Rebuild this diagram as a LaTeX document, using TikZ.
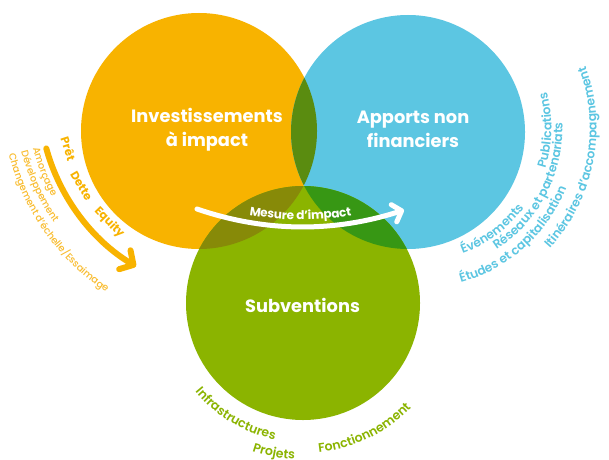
\documentclass[tikz,border=0pt]{standalone}
\usepackage{fontspec}
\setmainfont{Poppins}
\newfontfamily\popsb{Poppins SemiBold}
\newfontfamily\popmd{Poppins Medium}
\usetikzlibrary{arrows.meta,decorations.text}
\definecolor{orangeC}{HTML}{F8B300}
\definecolor{blueC}{HTML}{5CC6E2}
\definecolor{greenC}{HTML}{8BB400}
\definecolor{obC}{HTML}{5A8C10}
\definecolor{ogC}{HTML}{878A08}
\definecolor{bgC}{HTML}{379714}
\definecolor{obgC}{HTML}{78A50F}
\definecolor{orangeT}{HTML}{F8B300}
\definecolor{orangeL}{HTML}{F9BC2E}
\definecolor{blueT}{HTML}{5CC6E2}
\definecolor{greenT}{HTML}{8BB400}
\newcommand\bluefmt{\popsb\fontsize{12.3}{14}\selectfont}
\newcommand\greenfmt{\popsb\fontsize{12.5}{14}\selectfont}
\newcommand\smallfmt{\popmd\fontsize{9.8}{11}\selectfont}
\newcommand\mesfmt{\bfseries\fontsize{12}{14}\selectfont}
\newcommand\arctext[7]{%
  \path[decorate,decoration={text along path,text align=#5,#6,text={#7}}]
    ([shift={(#3:#2)}]#1) arc[start angle=#3,end angle=#4,radius=#2];}
\begin{document}
\begin{tikzpicture}[x=1pt,y=1pt,
  biglabel/.style={text=white,font=\bfseries\fontsize{17.8}{24}\selectfont,align=center},
  boldlab/.style={text=orangeT,font=\bfseries\fontsize{11.5}{13}\selectfont,inner sep=0pt},
  orangearrow/.style={draw=orangeC,line width=6pt,line cap=round,
     -{Straight Barb[length=10pt,width=22pt,round]}},
  whitearrow/.style={draw=white,line width=5pt,line cap=round,
     -{Straight Barb[length=8pt,width=18pt,round]}}]
\useasboundingbox (0,0) rectangle (609,459);
\fill[white] (0,0) rectangle (609,459);
\coordinate (O) at (199,328);
\coordinate (B) at (408,327);
\coordinate (G) at (303,156);
\coordinate (C) at (239,364);
\coordinate (Cr) at (417,331);
% circles
\fill[orangeC] (O) circle[radius=118pt];
\fill[blueC] (B) circle[radius=117pt];
\fill[greenC] (G) circle[radius=117pt];
\begin{scope}
  \clip (O) circle[radius=118pt];
  \fill[obC] (B) circle[radius=117pt];
  \fill[ogC] (G) circle[radius=117pt];
\end{scope}
\begin{scope}
  \clip (B) circle[radius=117pt];
  \fill[bgC] (G) circle[radius=117pt];
\end{scope}
\begin{scope}
  \clip (O) circle[radius=118pt];
  \clip (B) circle[radius=117pt];
  \fill[obgC] (G) circle[radius=117pt];
\end{scope}
% main labels
\node[biglabel] (inv) at (207,329) {Investissements\\à impact};
\node[biglabel] (apn) at (413,329.5) {Apports non\\financiers};
\node[biglabel] (sub) at (302.5,154) {Subventions};
% white arrow
\coordinate (ws) at (197,250);
\coordinate (we) at (404,249);
\draw[whitearrow] (ws) .. controls (265,226.7) and (334,226.3) .. (we);
\path[decorate,decoration={text along path,text align=center,raise=7pt,
   text color=white,text={|\mesfmt|Mesure d’impact}}]
   (ws) .. controls (265,226.7) and (334,226.3) .. (we);
% left orange arrow and labels
\draw[orangearrow] ([shift={(195.5:200pt)}]C) arc[start angle=195.5,end angle=239,radius=200pt];
\node[boldlab,rotate=288] (pret) at ([shift={(197.5:179pt)}]C) {Prêt};
\node[boldlab,rotate=300] (dette) at ([shift={(210:182pt)}]C) {Dette};
\node[boldlab,rotate=314] (equity) at ([shift={(224.5:182pt)}]C) {Equity};
\arctext{C}{213pt}{194.5}{260}{left}{text color=orangeL}{|\smallfmt|Amorçage}
\arctext{C}{225pt}{194.5}{260}{left}{text color=orangeL}{|\smallfmt|Développement}
\arctext{C}{238pt}{194.5}{260}{left}{text color=orangeL}{|\smallfmt|Changement d’échelle/Essaimage}
% right blue labels
\arctext{Cr}{133.5pt}{-103.4}{-3.4}{center}{text color=blueT}{|\bluefmt|Événements}
\arctext{Cr}{134.5pt}{-51}{49}{center}{text color=blueT}{|\bluefmt|Publications}
\arctext{Cr}{145.5pt}{-92.3}{37.7}{center}{text color=blueT}{|\bluefmt|Réseaux et partenariats}
\arctext{Cr}{161pt}{-113}{17}{center}{text color=blueT}{|\bluefmt|Études et capitalisation}
\arctext{Cr}{179.5pt}{-76}{54}{center}{text color=blueT}{|\bluefmt|Itinéraires d’accompagnement}
% bottom green labels
\arctext{G}{139.5pt}{193.8}{283.8}{center}{text color=greenT}{|\greenfmt|Infrastructures}
\arctext{G}{156.5pt}{229}{289}{center}{text color=greenT}{|\greenfmt|Projets}
\arctext{G}{150.5pt}{251}{341}{center}{text color=greenT}{|\greenfmt|Fonctionnement}
\end{tikzpicture}
\end{document}
